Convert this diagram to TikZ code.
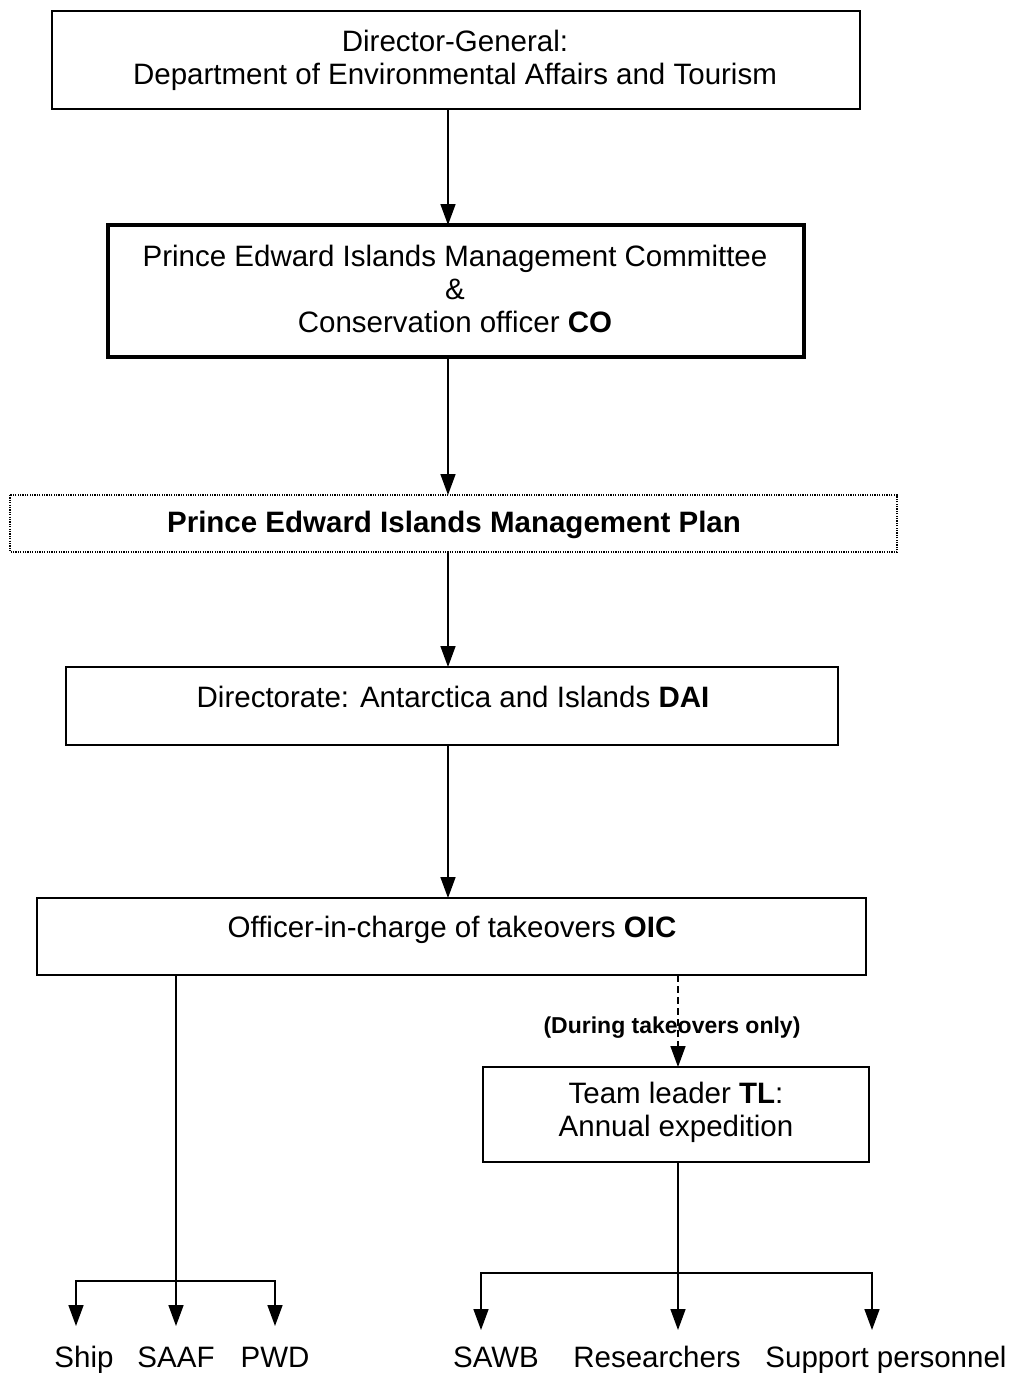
\documentclass[tikz,border=0pt]{standalone}
\usepackage{fontspec}
\setmainfont{Liberation Sans}
\usetikzlibrary{arrows.meta}
\begin{document}
\begin{tikzpicture}[x=1pt,y=-1pt,
  box/.style={draw, line width=1.6pt, inner sep=0pt},
  lbl/.style={font=\fontsize{29.5}{33}\selectfont, align=center, inner sep=0pt},
  arr/.style={line width=1.6pt, -{Triangle[length=21pt,width=15pt]}},
  ln/.style={line width=1.6pt}]
\useasboundingbox (0,0) rectangle (1013,1373);
% boxes
\draw[box] (52,11) rectangle (860,109);
\node[lbl] (dg) at (455,60) {Director-General:\\Department of Environmental Affairs and Tourism};
\coordinate (dgb) at (448,109);

\draw[box, line width=4.5pt] (108,225) rectangle (804,357);
\node[lbl, align=center] (mc) at (455,289) {Prince Edward Islands Management Committee\\\&\\Conservation officer \textbf{CO}};
\coordinate (mct) at (448,225);
\coordinate (mcb) at (448,357);

\draw[line width=2pt, dash pattern=on 1.2pt off 1.2pt] (10,495) rectangle (897,552);
\node[lbl] (mp) at (454,525) {\textbf{Prince Edward Islands Management Plan}};
\coordinate (mpt) at (448,495);
\coordinate (mpb) at (448,552);

\draw[box] (66,667) rectangle (838,745);
\node[lbl] (dai) at (453,697) {Directorate: Antarctica and Islands \textbf{DAI}};
\coordinate (dait) at (448,667);
\coordinate (daib) at (448,745);

\draw[box] (37,898) rectangle (866,975);
\node[lbl] (oic) at (452,930) {Officer-in-charge of takeovers \textbf{OIC}};
\coordinate (oict) at (448,898);
\coordinate (oicl) at (176,975);
\coordinate (oicr) at (678,975);

\draw[box] (483,1067) rectangle (869,1162);
\node[lbl] (tl) at (676,1112) {Team leader \textbf{TL}:\\Annual expedition};
\coordinate (tlt) at (678,1067);
\coordinate (tlb) at (678,1162);

% main arrows
\draw[arr] (dgb) -- (mct);
\draw[arr] (mcb) -- (mpt);
\draw[arr] (mpb) -- (dait);
\draw[arr] (daib) -- (oict);
\draw[arr, dash pattern=on 7pt off 4pt] (oicr) -- (tlt);
\node[font=\fontsize{23}{26}\selectfont\bfseries, inner sep=0pt] (dto) at (672,1028) {(During takeovers only)};

% left branch
\coordinate (lj) at (176,1281);
\node[lbl, anchor=base] (ship) at (84,1367) {Ship};
\node[lbl, anchor=base] (saaf) at (176,1367) {SAAF};
\node[lbl, anchor=base] (pwd) at (275,1367) {PWD};
\draw[ln] (oicl) -- (lj);
\draw[arr] (lj) -- (176,1326);
\draw[arr] (lj) -- (76,1281) -- (76,1326);
\draw[arr] (lj) -- (275,1281) -- (275,1326);

% right branch
\coordinate (rj) at (678,1273);
\node[lbl, anchor=base] (sawb) at (496,1367) {SAWB};
\node[lbl, anchor=base] (res) at (657,1367) {Researchers};
\node[lbl, anchor=base] (sup) at (886,1367) {Support personnel};
\draw[ln] (tlb) -- (rj);
\draw[arr] (rj) -- (678,1330);
\draw[arr] (rj) -- (481,1273) -- (481,1330);
\draw[arr] (rj) -- (872,1273) -- (872,1330);
\end{tikzpicture}
\end{document}
